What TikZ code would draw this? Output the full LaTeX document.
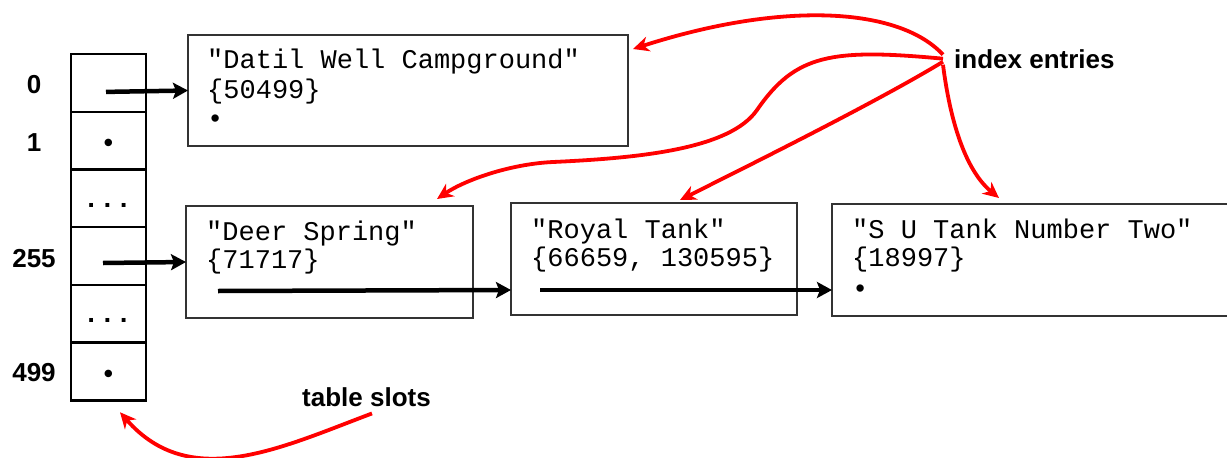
\documentclass[tikz,border=0pt]{standalone}
\usepackage{fontspec}
\setmainfont{Liberation Sans}
\newfontfamily\courfont{Liberation Mono}
\usepackage{tikz}
\usetikzlibrary{positioning,calc,arrows.meta}

\begin{document}
\begin{tikzpicture}[x=1pt, y=-1pt,
    slot/.style={draw, line width=2.5pt, minimum width=75pt, minimum height=57.7pt, inner sep=0pt, outer sep=0pt},
    entrybox/.style={draw=black!80, line width=1.4pt, inner sep=0pt, outer sep=0pt},
    entrytext/.style={anchor=base west, inner sep=0pt, font=\courfont\fontsize{27}{30}\selectfont},
    biglabel/.style={inner sep=0pt, font=\bfseries\fontsize{26}{30}\selectfont},
    ptr/.style={line width=4.5pt, -{Stealth[length=15pt,width=16pt,inset=3pt]}},
    callout/.style={red, line width=3.8pt, -{Stealth[length=16pt,width=15pt,inset=5pt]}}]
    \useasboundingbox (0,0) rectangle (1227,458);

    % Table slots
    \node [slot] (slot0) at (108.5,82.9) {};
    \node [slot] (slot1) at (108.5,140.6) {};
    \node [slot] (slot2) at (108.5,198.3) {};
    \node [slot] (slot3) at (108.5,256.0) {};
    \node [slot] (slot4) at (108.5,313.7) {};
    \node [slot] (slot5) at (108.5,371.4) {};

    % Slot numbers
    \node [biglabel, anchor=base] (num0) at (34,93) {0};
    \node [biglabel, anchor=base] (num1) at (34,151) {1};
    \node [biglabel, anchor=base] (num255) at (34,267) {255};
    \node [biglabel, anchor=base] (num499) at (34,381.5) {499};

    % Slot contents
    \node [biglabel] (null1) at (108.5,145) {\textbullet};
    \node [biglabel] (null499) at (108.5,376) {\textbullet};
    \node [inner sep=0pt, font=\courfont\bfseries\fontsize{27}{30}\selectfont] (gap2) at (107.5,205) {...};
    \node [inner sep=0pt, font=\courfont\bfseries\fontsize{27}{30}\selectfont] (gap4) at (107.5,320) {...};

    % Entries
    \node [entrybox, minimum width=440pt, minimum height=111pt] (datil) at (408,90.5) {};
    \node [entrybox, minimum width=287pt, minimum height=112pt] (deer) at (329.5,262) {};
    \node [entrybox, minimum width=286pt, minimum height=112pt] (royal) at (654,259) {};
    \node [entrybox, minimum width=410pt, minimum height=112pt] (sutank) at (1037,260) {};

    % Entry texts
    \node [entrytext] (datilname) at (207,68) {"Datil Well Campground"};
    \node [entrytext] (datilids) at (207,98) {\{50499\}};
    \node [entrytext] (datilnext) at (207,127) {\textbullet};
    \node [entrytext] (deername) at (206,240) {"Deer Spring"};
    \node [entrytext] (deerids) at (206,268) {\{71717\}};
    \node [entrytext] (royalname) at (531,238) {"Royal Tank"};
    \node [entrytext] (royalids) at (531,266) {\{66659, 130595\}};
    \node [entrytext] (suname) at (852,238) {"S U Tank Number Two"};
    \node [entrytext] (suids) at (852,266) {\{18997\}};
    \node [entrytext] (sunext) at (852,297) {\textbullet};

    % Labels
    \node [biglabel, anchor=base west, inner xsep=11pt] (idx) at (943,68) {index entries};
    \node [biglabel, anchor=base west] (tslots) at (302,406) {table slots};

    % Pointers
    \draw [ptr] ([shift={(-2.5pt,-9pt)}]slot0.center) -- (datil.west);
    \draw [ptr] ([shift={(-5.5pt,-7pt)}]slot3.center) -- (deer.west);
    \draw [ptr] ([shift={(32pt,-29pt)}]deer.west) -- ([yshift=-31pt]royal.west);
    \draw [ptr] ([shift={(29pt,-31pt)}]royal.west) -- ([yshift=-30pt]sutank.west);

    % Callouts
    \draw [callout] ([yshift=4pt]idx.west) .. controls (900,8) and (785,0) .. ([shift={(5pt,-14pt)}]datil.north east);
    \draw [callout] (idx.west) .. controls (830,48) and (795,55) .. (757,110)
        .. controls (730,149) and (640,158) .. (553,162)
        .. controls (510,164) and (465,180) .. ([shift={(-36pt,7pt)}]deer.north east);
    \draw [callout] ([yshift=-3pt]idx.west) .. controls (880,100) and (760,160) .. ([shift={(26pt,3pt)}]royal.north);
    \draw [callout] ([yshift=-6pt]idx.west) .. controls (950,120) and (965,170) .. ([shift={(167pt,6pt)}]sutank.north west);
    \draw [callout] ([shift={(5.5pt,-7pt)}]tslots.south) .. controls (280,448) and (190,492) .. ([shift={(11.5pt,-12pt)}]slot5.south);

\end{tikzpicture}
\end{document}
